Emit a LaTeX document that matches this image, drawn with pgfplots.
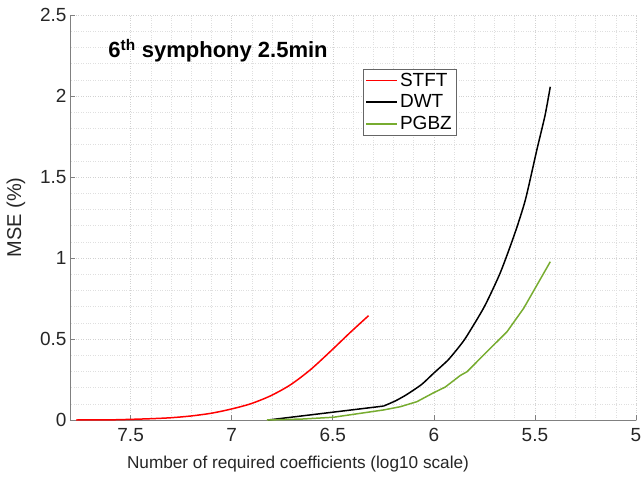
\documentclass[border=0pt]{standalone}
\usepackage{pgfplots}
\pgfplotsset{compat=1.18}
\usepackage{fontspec}
\setmainfont{Liberation Sans}
\definecolor{mgreen}{RGB}{119,172,48}
\definecolor{axgray}{RGB}{128,128,128}
\definecolor{txt}{RGB}{38,38,38}
\pgfplotsset{mylegimg/.style={legend image code/.code={\draw[##1, line width=1.7pt] (0bp,0bp) -- (31bp,0bp);}}}
\begin{document}
\begin{tikzpicture}
\begin{axis}[
  scale only axis, width=566bp, height=405bp,
  xmin=5, xmax=7.8, ymin=0, ymax=2.5,
  x dir=reverse,
  axis x line*=bottom, axis y line*=left,
  axis line style={axgray, line width=0.6pt, -},
  xtick={5,5.5,6,6.5,7,7.5}, ytick={0,0.5,1,1.5,2,2.5},
  minor x tick num=4, minor y tick num=4,
  tick align=inside, major tick length=5bp, minor tick length=0pt,
  tick style={axgray, line width=0.6pt},
  grid=both,
  major grid style={gray!35, dotted, line width=0.5pt},
  minor grid style={gray!25, dotted, line width=0.5pt},
  /pgf/number format/assume math mode=true,
  ticklabel style={font=\fontsize{19bp}{21bp}\selectfont, text=txt},
  xticklabel style={yshift=-5bp},
  xlabel={Number of required coefficients (log10 scale)},
  ylabel={MSE (\%)},
  xlabel style={font=\fontsize{17.2bp}{20bp}\selectfont, text=txt, yshift=-7bp, xshift=-55bp},
  ylabel style={font=\fontsize{20bp}{22bp}\selectfont, text=txt, yshift=8bp},
  legend style={at={(rel axis cs:0.518,0.867)}, anchor=north west, draw=gray!80!black, font=\fontsize{19bp}{21bp}\selectfont, inner sep=2bp, row sep=3bp, text=black},
  legend cell align=left,
  mylegimg,
]
\addplot[red, line width=1.5pt, smooth, tension=0.5] coordinates {
(7.77,0.000) (7.6,0.001) (7.5,0.004) (7.4,0.008) (7.3,0.014) (7.2,0.025) (7.1,0.042)
(7.008,0.066) (6.909,0.099) (6.81,0.148) (6.711,0.216) (6.612,0.309) (6.513,0.422) (6.414,0.54) (6.323,0.644)
};
\addlegendentry{STFT}
\addplot[black, line width=1.5pt, forget plot] coordinates {(6.82,0) (6.249,0.086)};
\addplot[black, line width=1.5pt, smooth, tension=0.4] coordinates {
(6.249,0.086) (6.19,0.118) (6.133,0.158) (6.06,0.22) (6.0,0.29) (5.93,0.37) (5.87,0.46)
(5.836,0.52) (5.75,0.70) (5.671,0.91) (5.6,1.15) (5.547,1.36) (5.49,1.67) (5.45,1.88) (5.424,2.057)
};
\addlegendentry{DWT}
\addplot[mgreen, line width=1.5pt] coordinates {
(6.826,0) (6.65,0.006) (6.497,0.017) (6.249,0.062) (6.166,0.082) (6.084,0.113) (6.0,0.169) (5.944,0.203)
(5.869,0.275) (5.836,0.298) (5.737,0.422) (5.638,0.545) (5.556,0.689) (5.424,0.977)
};
\addlegendentry{PGBZ}
\node[anchor=base west, font=\bfseries\fontsize{22bp}{24bp}\selectfont, text=black] at (axis cs:7.627,2.235) {6\textsuperscript{th} symphony 2.5min};
\coordinate (sw) at (rel axis cs:0,0);
\coordinate (ne) at (rel axis cs:1,1);
\end{axis}
\pgfresetboundingbox
\path ([shift={(-70bp,-62bp)}]sw) rectangle ([shift={(6bp,15bp)}]ne);
\end{tikzpicture}
\end{document}
